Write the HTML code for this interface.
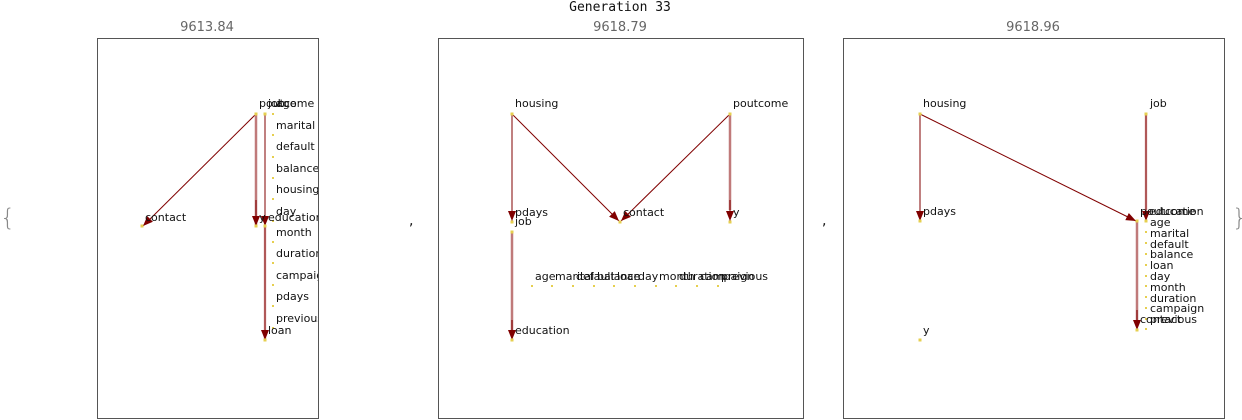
<!DOCTYPE html>
<html><head><meta charset="utf-8"><style>
html,body{margin:0;padding:0;background:#fff;}
svg{display:block;}
text{font-family:"DejaVu Sans","Liberation Sans",sans-serif;font-size:11px;fill:#111;}
.s{font-size:13px;fill:#666;}
.t{font-family:"DejaVu Sans Mono","Liberation Mono",monospace;font-size:13px;fill:#111;}
.n{fill:#e6cf4f;}
.th{stroke:#800000;stroke-width:1;fill:none;}
.tk{stroke:#c07a7a;stroke-width:2.5;fill:none;}
</style></head><body>
<svg width="1242" height="420" viewBox="0 0 1242 420" xmlns="http://www.w3.org/2000/svg">
<defs>
<marker id="a" viewBox="0 0 10 10" refX="10" refY="5" markerWidth="10" markerHeight="10" markerUnits="userSpaceOnUse" orient="auto">
<path d="M0,1 L10,5 L0,9 Z" fill="#800000"/></marker>
<clipPath id="c1"><rect x="97" y="38" width="221" height="380"/></clipPath>
</defs>
<text class="t" x="620" y="11" text-anchor="middle">Generation 33</text>
<text class="s" x="207" y="31" text-anchor="middle">9613.84</text>
<text class="s" x="620" y="31" text-anchor="middle">9618.79</text>
<text class="s" x="1033" y="31" text-anchor="middle">9618.96</text>
<rect x="97.5" y="38.5" width="221" height="380" fill="none" stroke="#555"/>
<rect x="438.5" y="38.5" width="365" height="380" fill="none" stroke="#555"/>
<rect x="843.5" y="38.5" width="381" height="380" fill="none" stroke="#555"/>
<text x="0" y="226" style="font-size:24px;fill:#888;font-weight:lighter">{</text>
<text x="1232" y="226" style="font-size:24px;fill:#888;font-weight:lighter">}</text>
<text x="409" y="225" style="font-size:14px">,</text>
<text x="822" y="225" style="font-size:14px">,</text>

<!-- panel 1 -->
<g clip-path="url(#c1)">
<line class="th" x1="256" y1="114" x2="143" y2="226" marker-end="url(#a)"/>
<line class="tk" x1="256" y1="114" x2="256" y2="226"/>
<line class="th" x1="256" y1="200" x2="256" y2="226" marker-end="url(#a)"/>
<line class="th" x1="265" y1="114" x2="265" y2="226" marker-end="url(#a)"/>
<line class="tk" x1="265" y1="226" x2="265" y2="340" style="stroke:#e0b0b0"/>
<line class="th" x1="265" y1="226" x2="265" y2="340" marker-end="url(#a)"/>
<g class="n">
<rect x="254.5" y="112.5" width="3" height="3"/><rect x="263.5" y="112.5" width="3" height="3"/>
<rect x="140.5" y="224.5" width="3" height="3"/><rect x="254.5" y="224.5" width="3" height="3"/>
<rect x="263.5" y="224.5" width="3" height="3"/><rect x="263.5" y="338.5" width="3" height="3"/>
<rect x="272" y="113" width="2" height="2"/><rect x="272" y="134" width="2" height="2"/>
<rect x="272" y="156" width="2" height="2"/><rect x="272" y="177" width="2" height="2"/>
<rect x="272" y="198" width="2" height="2"/><rect x="272" y="220" width="2" height="2"/>
<rect x="272" y="241" width="2" height="2"/><rect x="272" y="262" width="2" height="2"/>
<rect x="272" y="284" width="2" height="2"/><rect x="272" y="305" width="2" height="2"/>
<rect x="272" y="327" width="2" height="2"/>
</g>
<text x="259" y="107">poutcome</text><text x="268" y="107">job</text><text x="276" y="107">age</text>
<text x="276" y="129">marital</text><text x="276" y="150">default</text><text x="276" y="172">balance</text>
<text x="276" y="193">housing</text><text x="276" y="215">day</text><text x="276" y="236">month</text>
<text x="276" y="257">duration</text><text x="276" y="279">campaign</text><text x="276" y="300">pdays</text>
<text x="276" y="322">previous</text>
<text x="145" y="221">contact</text><text x="259" y="221">y</text><text x="268" y="221">education</text>
<text x="268" y="334">loan</text>
</g>

<!-- panel 2 -->
<line class="th" x1="512" y1="114" x2="512" y2="221" marker-end="url(#a)"/>
<line class="th" x1="512" y1="114" x2="619" y2="221" marker-end="url(#a)"/>
<line class="th" x1="730" y1="114" x2="621" y2="221" marker-end="url(#a)"/>
<line class="tk" x1="730" y1="114" x2="730" y2="210"/>
<line class="th" x1="730" y1="200" x2="730" y2="221" marker-end="url(#a)"/>
<line class="tk" x1="512" y1="232" x2="512" y2="330"/>
<line class="th" x1="512" y1="320" x2="512" y2="340" marker-end="url(#a)"/>
<g class="n">
<rect x="510.5" y="112.5" width="3" height="3"/><rect x="728.5" y="112.5" width="3" height="3"/>
<rect x="510.5" y="220.5" width="3" height="3"/><rect x="510.5" y="230.5" width="3" height="3"/>
<rect x="618.5" y="220.5" width="3" height="3"/><rect x="728.5" y="220.5" width="3" height="3"/>
<rect x="510.5" y="338.5" width="3" height="3"/>
<rect x="531" y="285" width="2" height="2"/><rect x="551" y="285" width="2" height="2"/>
<rect x="572" y="285" width="2" height="2"/><rect x="593" y="285" width="2" height="2"/>
<rect x="613" y="285" width="2" height="2"/><rect x="634" y="285" width="2" height="2"/>
<rect x="655" y="285" width="2" height="2"/><rect x="675" y="285" width="2" height="2"/>
<rect x="696" y="285" width="2" height="2"/><rect x="717" y="285" width="2" height="2"/>
</g>
<text x="515" y="107">housing</text><text x="733" y="107">poutcome</text>
<text x="515" y="216">pdays</text><text x="515" y="225">job</text>
<text x="623" y="216">contact</text><text x="733" y="216">y</text>
<text x="515" y="334">education</text>
<text x="535" y="280">age</text><text x="555" y="280">marital</text><text x="576" y="280">default</text>
<text x="597" y="280">balance</text><text x="617" y="280">loan</text><text x="638" y="280">day</text>
<text x="659" y="280">month</text><text x="679" y="280">duration</text><text x="700" y="280">campaign</text>
<text x="721" y="280">previous</text>

<!-- panel 3 -->
<line class="th" x1="920" y1="114" x2="920" y2="221" marker-end="url(#a)"/>
<line class="th" x1="920" y1="114" x2="1136" y2="221" marker-end="url(#a)"/>
<line class="tk" x1="1146" y1="114" x2="1146" y2="210" style="stroke:#e0b0b0"/>
<line class="th" x1="1146" y1="114" x2="1146" y2="221" marker-end="url(#a)"/>
<line class="tk" x1="1137" y1="222" x2="1137" y2="320"/>
<line class="th" x1="1137" y1="310" x2="1137" y2="330" marker-end="url(#a)"/>
<g class="n">
<rect x="918.5" y="112.5" width="3" height="3"/><rect x="1144.5" y="112.5" width="3" height="3"/>
<rect x="918.5" y="219.5" width="3" height="3"/><rect x="1135.5" y="219.5" width="3" height="3"/>
<rect x="1144.5" y="219.5" width="3" height="3"/>
<rect x="1145" y="231" width="2" height="2"/><rect x="1145" y="242" width="2" height="2"/>
<rect x="1145" y="253" width="2" height="2"/><rect x="1145" y="264" width="2" height="2"/>
<rect x="1145" y="275" width="2" height="2"/><rect x="1145" y="285" width="2" height="2"/>
<rect x="1145" y="296" width="2" height="2"/><rect x="1145" y="307" width="2" height="2"/>
<rect x="1145" y="318" width="2" height="2"/><rect x="1145" y="328" width="2" height="2"/>
<rect x="1135.5" y="328.5" width="3" height="3"/><rect x="918.5" y="338.5" width="3" height="3"/>
</g>
<text x="923" y="107">housing</text><text x="1150" y="107">job</text>
<text x="923" y="215">pdays</text>
<text x="1140" y="215">poutcome</text><text x="1149" y="215">education</text>
<text x="1150" y="226">age</text><text x="1150" y="237">marital</text><text x="1150" y="248">default</text>
<text x="1150" y="258">balance</text><text x="1150" y="269">loan</text><text x="1150" y="280">day</text>
<text x="1150" y="291">month</text><text x="1150" y="302">duration</text><text x="1150" y="312">campaign</text>
<text x="1150" y="323">previous</text><text x="1140" y="323">contact</text>
<text x="923" y="334">y</text>
</svg>
</body></html>
